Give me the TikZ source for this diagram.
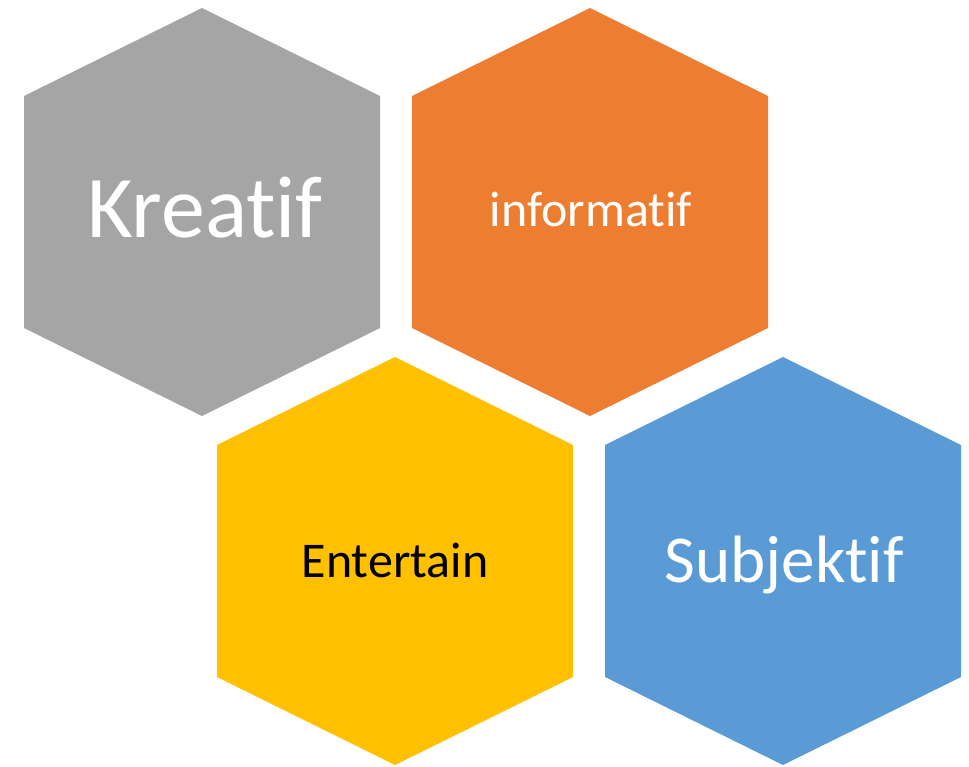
\documentclass[tikz,border=0pt]{standalone}
\usepackage{fontspec}
\setmainfont{Carlito}[Ligatures={NoCommon}]
\definecolor{hgray}{HTML}{A5A5A5}
\definecolor{horange}{HTML}{ED7D31}
\definecolor{hyellow}{HTML}{FFC000}
\definecolor{hblue}{HTML}{5B9BD5}
\tikzset{
  hexlabel/.style={anchor=base, inner sep=0pt, text=white},
}
\newcommand{\hexat}[3]{% color, cx, cy
  \fill[#1] (#2,#3-204) -- (#2+178,#3-116) -- (#2+178,#3+116) -- (#2,#3+204)
    -- (#2-178,#3+116) -- (#2-178,#3-116) -- cycle;}
\begin{document}
\begin{tikzpicture}[x=1pt,y=-1pt]
\useasboundingbox (0,0) rectangle (969,766);
\hexat{hgray}{202}{212}
\hexat{horange}{590}{212}
\hexat{hyellow}{395}{561}
\hexat{hblue}{783}{561}
\node[hexlabel, font=\fontsize{88}{100}\selectfont] (kreatif) at (205,237) {Kreatif};
\node[hexlabel, font=\fontsize{50}{60}\selectfont] (informatif) at (591,226) {informatif};
\node[hexlabel, font=\fontsize{50}{60}\selectfont, text=black] (entertain) at (395,577) {Entertain};
\node[hexlabel, font=\fontsize{67}{80}\selectfont] (subjektif) at (784,582) {Subjektif};
\end{tikzpicture}
\end{document}
